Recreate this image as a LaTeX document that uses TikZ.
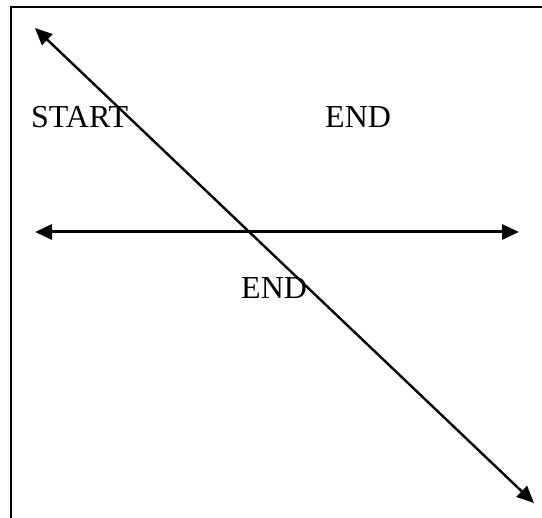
\documentclass[tikz,border=0pt]{standalone}
\usepackage{fontspec}
\setmainfont{Liberation Serif}
\usetikzlibrary{arrows.meta}
\begin{document}
\begin{tikzpicture}[x=1pt,y=-1pt,
  lbl/.style={anchor=base west,inner sep=0pt,font=\fontsize{32}{38}\selectfont},
  arr/.style={line width=2.4pt,{Triangle[length=17pt,width=15pt]}-{Triangle[length=17pt,width=15pt]}},
  frame/.style={line width=2pt}]
\useasboundingbox (0,0) rectangle (542,518);
\coordinate (f1) at (11,518);
\coordinate (f2) at (11,7.5);
\coordinate (f3) at (542,7.5);
\draw[frame] (f1) -- (f2) -- (f3);
\coordinate (d1) at (35,28);
\coordinate (d2) at (534,503);
\coordinate (h1) at (35,232);
\coordinate (h2) at (519,232);
\draw[arr] (d1) -- (d2);
\draw[arr,line width=3pt] (h1) -- (h2);
\node[lbl] (start) at (31,128) {START};
\node[lbl] (end1) at (325,128) {END};
\node[lbl] (end2) at (241,299) {END};
\end{tikzpicture}
\end{document}
